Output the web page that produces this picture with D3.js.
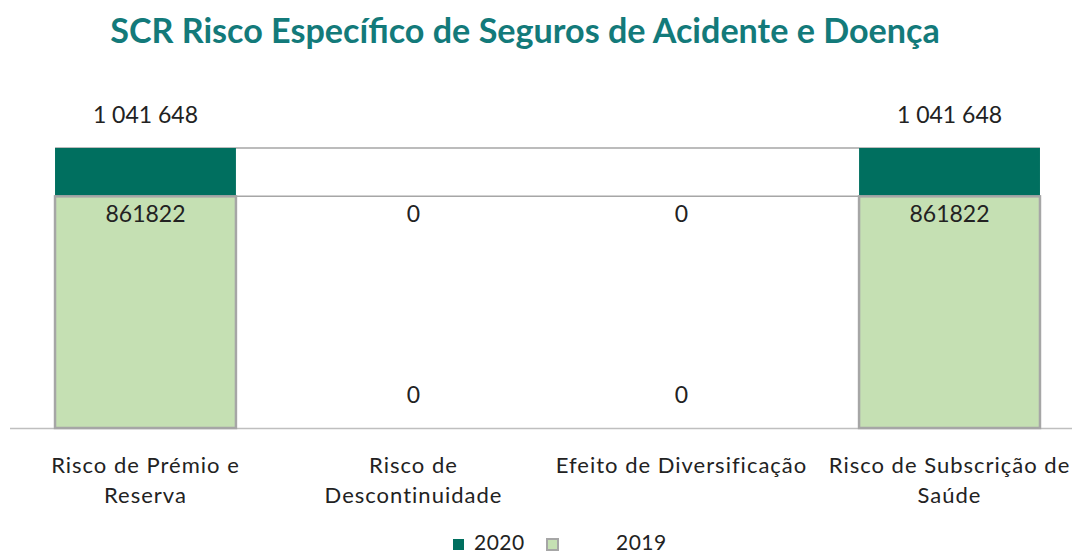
<!DOCTYPE html>
<html lang="pt">
<head>
  <meta charset="UTF-8">
  <title>SCR Risco Específico de Seguros de Acidente e Doença</title>
  <script src="https://d3js.org/d3.v7.min.js"></script>
  <style>
    body { margin: 0; background: #fff; }
    svg { display: block; font-family: Lato, "DejaVu Sans", sans-serif; }
  </style>
</head>
<body>
  <div id="chart"></div>
  <script>
    const categories = ["Risco de Prémio e Reserva", "Risco de Descontinuidade", "Efeito de Diversificação", "Risco de Subscrição de Saúde"];
    const isTotal = [false, false, false, true];
    const values2020 = [1041648, 0, 0, 1041648];
    const values2019 = [861822, 0, 0, 861822];
    const seriesNames = ["2020", "2019"];

    const width = 1072, height = 554;
    const baseY = 428, topY = 148;
    const darkGreen = "#006f5f", lightGreen = "#c5e0b3", grey = "#a6a6a6";

    const svg = d3.select("#chart").append("svg")
      .attr("width", width)
      .attr("height", height);

    // title, sized to match the original width
    const title = svg.append("text")
      .attr("x", 525).attr("y", 43)
      .attr("text-anchor", "middle")
      .attr("font-weight", "bold")
      .attr("font-size", 30)
      .attr("fill", "#137a7a")
      .text("SCR Risco Específico de Seguros de Acidente e Doença");
    const tw = title.node().getComputedTextLength();
    title.attr("font-size", 30 * 830 / tw);

    const x = d3.scaleBand()
      .domain(categories)
      .range([10, 1085])
      .paddingInner(0.325)
      .paddingOuter(0.168);

    const y = d3.scaleLinear()
      .domain([0, d3.max(values2020)])
      .range([baseY, topY]);

    // waterfall: running base for each step, totals start at zero
    function steps(vals) {
      let run = 0;
      return vals.map((v, i) => {
        if (isTotal[i]) return { cat: categories[i], v: v, lo: 0, hi: v };
        const s = { cat: categories[i], v: v, lo: run, hi: run + v };
        run += v;
        return s;
      });
    }
    const s2020 = steps(values2020);
    const s2019 = steps(values2019);

    const x0 = x(categories[0]), x1 = x(categories[categories.length - 1]) + x.bandwidth();

    // connector lines at each series level
    [s2020[0].hi, s2019[0].hi].forEach(v => {
      svg.append("line")
        .attr("x1", x0).attr("x2", x1)
        .attr("y1", y(v)).attr("y2", y(v))
        .attr("stroke", grey).attr("stroke-width", 1.5);
    });

    // axis baseline
    svg.append("line")
      .attr("x1", 10).attr("x2", width)
      .attr("y1", baseY + 0.5).attr("y2", baseY + 0.5)
      .attr("stroke", "#bfbfbf").attr("stroke-width", 1.5);

    svg.selectAll(".bar2020")
      .data(s2020)
      .enter().append("rect")
      .attr("class", "bar2020")
      .attr("x", d => x(d.cat))
      .attr("width", x.bandwidth())
      .attr("y", d => y(Math.max(d.lo, d.hi)))
      .attr("height", d => Math.abs(y(d.lo) - y(d.hi)))
      .attr("fill", darkGreen);

    svg.selectAll(".bar2019")
      .data(s2019)
      .enter().append("rect")
      .attr("class", "bar2019")
      .attr("x", d => x(d.cat))
      .attr("width", x.bandwidth())
      .attr("y", d => y(Math.max(d.lo, d.hi)))
      .attr("height", d => Math.abs(y(d.lo) - y(d.hi)))
      .attr("fill", lightGreen)
      .attr("stroke", grey)
      .attr("stroke-width", 2.5);

    const fmtSpace = d3.formatLocale({ decimal: ",", thousands: " ", grouping: [3], currency: ["", "€"] }).format(",d");

    // 2020 labels: above the totals, near the base for the zero steps
    svg.selectAll(".lab2020")
      .data(s2020)
      .enter().append("text")
      .attr("x", d => x(d.cat) + x.bandwidth() / 2)
      .attr("y", d => d.v > 0 ? y(d.hi) - 25 : baseY - 25)
      .attr("text-anchor", "middle")
      .attr("font-size", 23)
      .attr("fill", "#222")
      .text(d => fmtSpace(d.v));

    svg.selectAll(".lab2019")
      .data(s2019)
      .enter().append("text")
      .attr("x", d => x(d.cat) + x.bandwidth() / 2)
      .attr("y", d => y(d.hi) + 26)
      .attr("text-anchor", "middle")
      .attr("font-size", 23)
      .attr("fill", "#222")
      .text(d => String(d.v));

    // category labels, wrapped
    const catText = svg.selectAll(".cat")
      .data(categories)
      .enter().append("text")
      .attr("class", "cat")
      .attr("x", d => x(d) + x.bandwidth() / 2)
      .attr("y", 473)
      .attr("text-anchor", "middle")
      .attr("font-size", 22)
      .attr("letter-spacing", 1)
      .attr("fill", "#222");

    catText.each(function(d) {
      const el = d3.select(this);
      const words = d.split(" ");
      let line = [];
      let tspan = el.append("tspan").attr("x", el.attr("x")).attr("dy", 0);
      words.forEach(w => {
        line.push(w);
        tspan.text(line.join(" "));
        if (tspan.node().getComputedTextLength() > 262 && line.length > 1) {
          line.pop();
          tspan.text(line.join(" "));
          line = [w];
          tspan = el.append("tspan").attr("x", el.attr("x")).attr("dy", 30).text(w);
        }
      });
    });

    // legend
    const legend = svg.append("g");
    legend.append("rect").attr("x", 453).attr("y", 539).attr("width", 11).attr("height", 11).attr("fill", darkGreen);
    legend.append("text").attr("x", 474).attr("y", 550).attr("font-size", 21).attr("letter-spacing", 0.5).attr("fill", "#222").text(seriesNames[0]);
    legend.append("rect").attr("x", 547).attr("y", 539).attr("width", 11).attr("height", 11)
      .attr("fill", lightGreen).attr("stroke", grey).attr("stroke-width", 2);
    legend.append("text").attr("x", 616).attr("y", 550).attr("font-size", 21).attr("letter-spacing", 0.5).attr("fill", "#222").text(seriesNames[1]);
  </script>
</body>
</html>
